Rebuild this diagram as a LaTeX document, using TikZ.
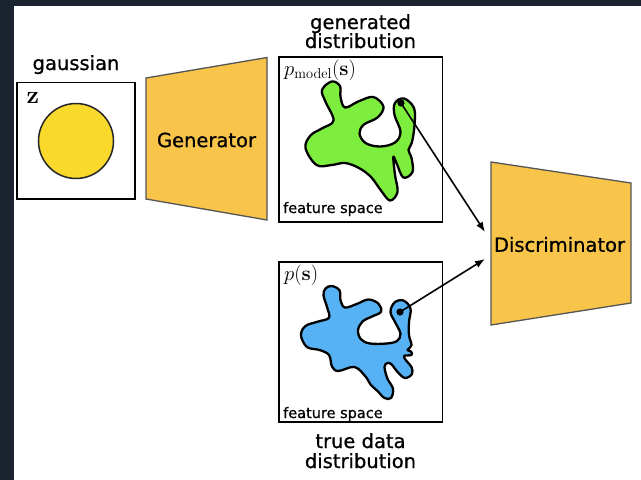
\documentclass[tikz,border=0pt]{standalone}
\usepackage[no-math]{fontspec}
\setmainfont{DejaVu Sans}
\newfontfamily\medsans[FakeBold=0.7]{DejaVu Sans}
\usetikzlibrary{arrows.meta}
\definecolor{bgdark}{RGB}{27,34,48}
\definecolor{gaussyellow}{RGB}{248,217,44}
\definecolor{netorange}{RGB}{248,196,74}
\definecolor{netedge}{RGB}{85,85,85}
\definecolor{blobgreen}{RGB}{126,238,62}
\definecolor{blobblue}{RGB}{86,178,244}
\newcommand{\biglabel}{\medsans\fontsize{19.5}{20}\selectfont}
\newcommand{\smalllabel}{\medsans\fontsize{14.5}{15}\selectfont}
\newcommand{\mathlabel}{\fontsize{21}{22}\selectfont}
\newcommand{\zlabelfont}{\fontsize{24}{25}\selectfont}
\begin{document}
\begin{tikzpicture}[x=1pt,y=-1pt,
  panel/.style={draw=black,line width=1.6pt,fill=white},
  net/.style={draw=netedge,line width=1.3pt,fill=netorange},
  blob/.style={draw=black,line width=2.3pt,line join=round},
  conn/.style={line width=1.6pt,-{Latex[length=10pt,width=7.5pt]}},
  dotmark/.style={fill=black},
  title/.style={font=\biglabel,inner sep=0pt,align=center},
  corner/.style={font=\smalllabel,inner sep=0pt,anchor=base west},
  mlab/.style={font=\mathlabel,inner sep=0pt,anchor=base west}]
\useasboundingbox (0,0) rectangle (641,480);
\fill[bgdark] (0,0) rectangle (641,480);
\fill[white] (13.5,6) rectangle (641,480);

% gaussian panel
\draw[panel] (17,82.5) rectangle (135,199);
\node[title,anchor=base] (gausslab) at (76,70) {gaussian};
\node[mlab,font=\zlabelfont] (zlab) at (26.5,103.5) {$\mathbf{z}$};
\draw[draw=black!85,line width=1.5pt,fill=gaussyellow] (76,141) circle (37.5);

% generator
\draw[net] (146,78) -- (267,57.5) -- (267,220) -- (146,199) -- cycle;
\node[title] (gen) at (206.5,140) {Generator};

% generated distribution panel
\draw[panel] (279,57) rectangle (442.5,222);
\node[title,anchor=base] (genlab1) at (360.5,29) {generated};
\node[title,anchor=base] (genlab2) at (360.5,48) {distribution};
\node[mlab] (pmodel) at (284,75) {$p_{\mathrm{model}}(\mathbf{s})$};
\node[corner] (fs1) at (283,213) {feature space};
\draw[blob,fill=blobgreen] plot[smooth cycle,tension=0.6] coordinates {
 (331.7,81.5) (340,86) (340.5,96.7) (345,107.5) (358.3,101.5) (373.3,97)
 (383.5,106.7) (377.5,117.5) (364,124.5) (359.5,133.3) (365.5,143) (380,146.5)
 (395,142.5) (400.5,131.7) (394.5,115) (395,103) (404,98.5) (414,108)
 (414.5,125) (412,142) (408.5,150) (411.5,158) (412.5,172) (403.3,177.5)
 (396.5,163) (393.3,157) (395,175) (397.5,192) (390,200.5) (381,190.5)
 (371,177) (359,168) (345,163) (331.7,165) (316.5,165) (305.5,148)
 (310.5,135.5) (321.7,128.5) (333.5,120.5) (325.5,101.7) (322,90)};
\coordinate (gdot) at (401,103);
\fill[dotmark] (gdot) circle (3.6);

% true data panel
\draw[panel] (279,262) rectangle (442.5,422);
\node[title,anchor=base] (truelab1) at (360.5,448) {true data};
\node[title,anchor=base] (truelab2) at (360.5,468) {distribution};
\node[mlab] (ps) at (284,280) {$p(\mathbf{s})$};
\node[corner] (fs2) at (283,418) {feature space};
\draw[blob,fill=blobblue] plot[smooth cycle,tension=0.6] coordinates {
 (331.7,286) (339.5,290.3) (340.5,300.3) (345,307.5) (356.7,304) (368.3,299.5)
 (378.5,303.7) (381,311.8) (372,316.5) (362.5,321.5) (358,330.3) (361,339.3)
 (370,343.5) (386.7,343.5) (397,341) (400.5,333.7) (395,322) (390.5,312)
 (394.5,302.5) (403.3,300.5) (410.5,308.5) (409,322) (409,335.3) (411.5,345.3)
 (407.5,350) (411,351.5) (411.5,355) (404,356) (406.5,361) (411.5,367)
 (412,374) (405,378) (397.5,372) (391.7,364.5) (387.5,363) (384.5,367)
 (387.5,378.7) (393,388.7) (391,398) (384.5,398) (377.5,391) (370.5,384.5)
 (365.5,376.5) (354.5,367) (338.3,371) (332,366.5) (329,355) (319.5,350)
 (307,347) (301,335.3) (305.5,326) (318.3,321.5) (329,317.7) (327,307)
 (323.5,295.3) (325.5,288.5)};
\coordinate (bdot) at (400,312);
\fill[dotmark] (bdot) circle (3.6);

% discriminator
\draw[net] (491,162) -- (631,183) -- (631,303) -- (491,325) -- cycle;
\node[title] (disc) at (559.5,244.5) {Discriminator};
\coordinate (din1) at (485,232);
\coordinate (din2) at (485,259);

% connectors
\draw[conn] (gdot) -- (din1);
\draw[conn] (bdot) -- (din2);
\end{tikzpicture}
\end{document}
